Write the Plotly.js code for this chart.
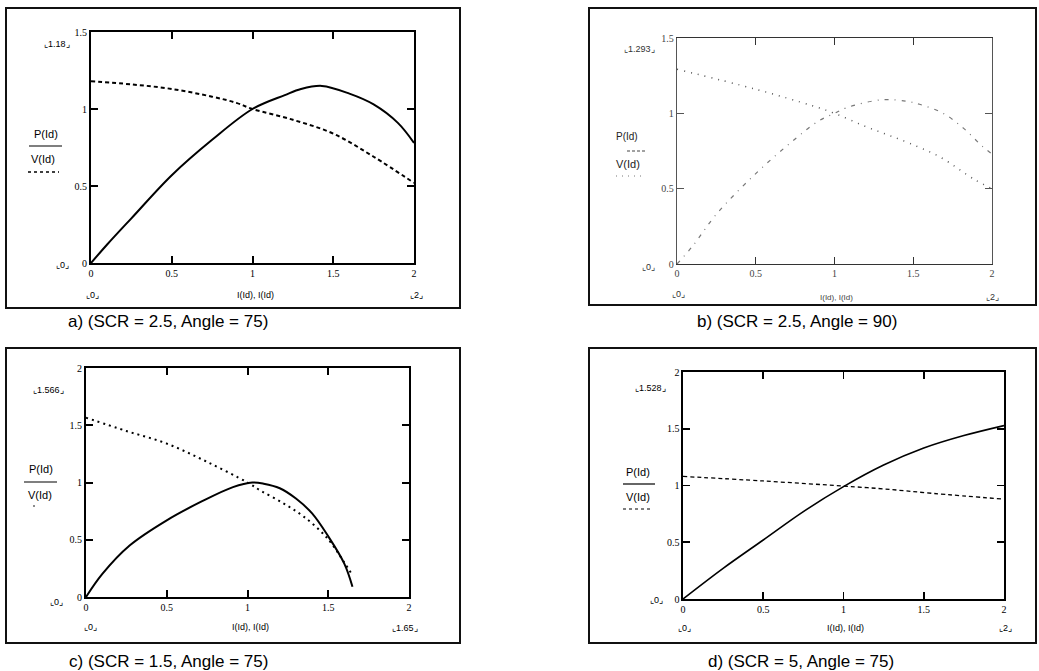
<!DOCTYPE html>
<html>
<head>
<meta charset="utf-8">
<script src="https://cdn.plot.ly/plotly-3.0.1.min.js"></script>
<style>html,body{margin:0;padding:0;background:#fff;}#chart{width:1039px;height:671px;}</style>
</head>
<body>
<div id="chart"></div>
<script>
// ---- data ----
var xTickVals = [0, 0.5, 1, 1.5, 2];
var xTickText = ["0", "0.5", "1", "1.5", "2"];
var yTickVals15 = [0, 0.5, 1, 1.5];
var yTickText15 = ["0", "0.5", "1", "1.5"];
var yTickVals2 = [0, 0.5, 1, 1.5, 2];
var yTickText2 = ["0", "0.5", "1", "1.5", "2"];

// a) SCR = 2.5, Angle = 75
var aPx = [0, 0.1, 0.25, 0.5, 0.75, 1.0, 1.2, 1.3, 1.43, 1.6, 1.75, 1.9, 2.0];
var aP  = [0, 0.12, 0.29, 0.57, 0.80, 1.0, 1.09, 1.13, 1.15, 1.10, 1.03, 0.91, 0.78];
var aVx = [0, 0.25, 0.5, 0.75, 0.9, 1.0, 1.25, 1.5, 1.75, 2.0];
var aV  = [1.18, 1.16, 1.13, 1.08, 1.04, 1.0, 0.93, 0.84, 0.69, 0.52];

// b) SCR = 2.5, Angle = 90
var bPx = [0, 0.1, 0.25, 0.5, 0.75, 0.9, 1.0, 1.07, 1.3, 1.46, 1.54, 1.69, 1.82, 1.94, 2.0];
var bP  = [0, 0.12, 0.33, 0.60, 0.83, 0.95, 1.0, 1.035, 1.09, 1.08, 1.06, 1.0, 0.90, 0.78, 0.73];
var bVx = [0, 0.5, 0.86, 1.0, 1.18, 1.33, 1.48, 1.67, 1.89, 2.0];
var bV  = [1.293, 1.16, 1.05, 1.0, 0.92, 0.86, 0.80, 0.71, 0.56, 0.50];

// c) SCR = 1.5, Angle = 75
var cPx = [0, 0.1, 0.27, 0.5, 0.71, 0.91, 1.03, 1.1, 1.2, 1.3, 1.4, 1.5, 1.6, 1.65];
var cP  = [0, 0.2, 0.45, 0.67, 0.83, 0.96, 1.0, 0.99, 0.95, 0.86, 0.73, 0.53, 0.29, 0.09];
var cVx = [0, 0.25, 0.5, 0.75, 1.0, 1.08, 1.22, 1.35, 1.49, 1.6, 1.65];
var cV  = [1.566, 1.45, 1.34, 1.18, 1.0, 0.93, 0.82, 0.70, 0.52, 0.30, 0.19];

// d) SCR = 5, Angle = 75
var dPx = [0, 0.25, 0.5, 0.75, 1.0, 1.25, 1.5, 1.75, 2.0];
var dP  = [0, 0.27, 0.52, 0.77, 0.99, 1.18, 1.33, 1.44, 1.528];
var dVx = [0, 0.5, 1.0, 1.25, 1.56, 2.0];
var dV  = [1.08, 1.04, 0.995, 0.97, 0.93, 0.88];

var captions = ["a) (SCR = 2.5, Angle = 75)", "b) (SCR = 2.5, Angle = 90)",
                "c) (SCR = 1.5, Angle = 75)", "d) (SCR = 5, Angle = 75)"];
var limitLabels = ["⌞1.18⌟", "⌞1.293⌟", "⌞1.566⌟", "⌞1.528⌟"];
var xEndLabels = ["⌞2⌟", "⌞2⌟", "⌞1.65⌟", "⌞2⌟"];
var zeroLabel = "⌞0⌟";
var xAxisLabel = "I(Id), I(Id)";
var legP = "P(Id)", legV = "V(Id)";

// ---- layout helpers ----
var W = 1039, H = 671;
function px(x) { return x / W; }
function py(y) { return 1 - y / H; }

var tickFont = {family: "Liberation Serif, serif", size: 10, color: "#000"};
var tickFontGray = {family: "Liberation Serif, serif", size: 10, color: "#444"};

function axis(d0, d1, range, anchor, mirror, vals, text, color, lw, font) {
  return {
    domain: [d0, d1], range: range, anchor: anchor,
    showline: true, linecolor: color, linewidth: lw, mirror: mirror,
    ticks: "inside", ticklen: 7, tickwidth: lw, tickcolor: color,
    tickmode: "array", tickvals: vals, ticktext: text,
    showgrid: false, zeroline: false, tickfont: font, fixedrange: true
  };
}

var traces = [
  {x: aPx, y: aP, xaxis: "x", yaxis: "y", mode: "lines", line: {color: "#000", width: 2, shape: "spline"}},
  {x: aVx, y: aV, xaxis: "x", yaxis: "y", mode: "lines", line: {color: "#000", width: 2, dash: "4px,3px", shape: "spline"}},
  {x: bPx, y: bP, xaxis: "x2", yaxis: "y2", mode: "lines", line: {color: "#777", width: 1.2, dash: "4px,6px,1px,6px", shape: "spline"}},
  {x: bVx, y: bV, xaxis: "x2", yaxis: "y2", mode: "lines", line: {color: "#555", width: 1.5, dash: "1px,6px", shape: "spline"}},
  {x: cPx, y: cP, xaxis: "x3", yaxis: "y3", mode: "lines", line: {color: "#000", width: 2, shape: "spline"}},
  {x: cVx, y: cV, xaxis: "x3", yaxis: "y3", mode: "lines", line: {color: "#000", width: 2, dash: "2px,4px", shape: "spline"}},
  {x: dPx, y: dP, xaxis: "x4", yaxis: "y4", mode: "lines", line: {color: "#000", width: 1.6, shape: "spline"}},
  {x: dVx, y: dV, xaxis: "x4", yaxis: "y4", mode: "lines", line: {color: "#000", width: 1.3, dash: "4px,3px", shape: "spline"}}
];

// plot area pixel boxes [left, right, top, bottom]
var boxes = [[91, 414, 32, 263], [677, 992, 38, 264], [86, 409, 368, 597], [683, 1004, 372, 599]];

var layout = {
  width: W, height: H, margin: {l: 0, r: 0, t: 0, b: 0},
  paper_bgcolor: "#fff", plot_bgcolor: "rgba(0,0,0,0)", showlegend: false,
  xaxis:  axis(px(boxes[0][0]), px(boxes[0][1]), [0, 2], "y", "allticks", xTickVals, xTickText, "#000", 2, tickFont),
  yaxis:  axis(py(boxes[0][3]), py(boxes[0][2]), [0, 1.5], "x", "allticks", yTickVals15, yTickText15, "#000", 2, tickFont),
  xaxis2: axis(px(boxes[1][0]), px(boxes[1][1]), [0, 2], "y2", "ticks", xTickVals, xTickText, "#333", 1.3, tickFontGray),
  yaxis2: axis(py(boxes[1][3]), py(boxes[1][2]), [0, 1.5], "x2", "allticks", yTickVals15, yTickText15, "#555", 1.2, tickFontGray),
  xaxis3: axis(px(boxes[2][0]), px(boxes[2][1]), [0, 2], "y3", "allticks", xTickVals, xTickText, "#000", 2, tickFont),
  yaxis3: axis(py(boxes[2][3]), py(boxes[2][2]), [0, 2], "x3", "ticks", yTickVals2, yTickText2, "#000", 2, tickFont),
  xaxis4: axis(px(boxes[3][0]), px(boxes[3][1]), [0, 2], "y4", "allticks", xTickVals, xTickText, "#000", 1.6, tickFont),
  yaxis4: axis(py(boxes[3][3]), py(boxes[3][2]), [0, 2], "x4", "allticks", yTickVals2, yTickText2, "#000", 1.6, tickFont),
  shapes: [], annotations: []
};

function ann(text, x, y, size, family, color, anchor) {
  layout.annotations.push({xref: "paper", yref: "paper", x: px(x), y: py(y), text: text,
    showarrow: false, xanchor: anchor || "center", yanchor: "middle",
    font: {size: size, family: family, color: color || "#000"}});
}
function hline(x0, x1, y, color, width, dash) {
  layout.shapes.push({type: "line", xref: "paper", yref: "paper", x0: px(x0), x1: px(x1), y0: py(y), y1: py(y),
    line: {color: color, width: width, dash: dash || "solid"}});
}
function rect(x0, x1, y0, y1) {
  layout.shapes.push({type: "rect", xref: "paper", yref: "paper", x0: px(x0), x1: px(x1), y0: py(y0), y1: py(y1),
    line: {color: "#111", width: 2}});
}

// outer frames
rect(6, 460, 8, 308);
rect(589, 1036, 8, 305);
rect(6, 460, 348, 643);
rect(589, 1036, 348, 643);

var sans = "Liberation Sans, Arial, sans-serif";
var small = 9;

// panel a
ann(limitLabels[0], 57, 44, small, sans);
ann(zeroLabel, 62, 265, small, sans);
ann(zeroLabel, 92, 295, small, sans);
ann(xAxisLabel, 255, 295, small, sans);
ann(xEndLabels[0], 416, 295, small, sans);
ann(legP, 46, 134, 11, sans);
hline(29, 62, 146, "#000", 1.2);
ann(legV, 43, 159, 11, sans);
hline(28, 59, 172, "#000", 1.5, "3px,3px");

// panel b
ann(limitLabels[1], 639, 49, small, sans, "#333");
ann(zeroLabel, 648, 267, small, sans, "#333");
ann(zeroLabel, 678, 294, small, sans, "#333");
ann(xAxisLabel, 836, 297, 8, sans, "#444");
ann(xEndLabels[1], 992, 297, small, sans, "#333");
ann(legP, 627, 137, 10, sans, "#222");
hline(627, 647, 151, "#444", 1, "3px,2px");
ann(legV, 628, 164, 11, sans, "#222");
hline(616, 643, 176, "#777", 1, "1px,5px");

// panel c
ann(limitLabels[2], 48, 390, small, sans);
ann(zeroLabel, 56, 602, small, sans);
ann(zeroLabel, 90, 627, small, sans);
ann(xAxisLabel, 250, 627, small, sans);
ann(xEndLabels[2], 405, 628, small, sans);
ann(legP, 41, 469, 11, sans);
hline(24, 57, 482, "#000", 1.2);
ann(legV, 40, 495, 11, sans);
hline(33, 35, 506, "#666", 1.5);

// panel d
ann(limitLabels[3], 650, 388, small, sans);
ann(zeroLabel, 656, 600, small, sans);
ann(zeroLabel, 684, 628, small, sans);
ann(xAxisLabel, 845, 628, small, sans);
ann(xEndLabels[3], 1005, 628, small, sans);
ann(legP, 638, 472, 11, sans);
hline(623, 655, 484, "#000", 1.2);
ann(legV, 638, 497, 11, sans);
hline(623, 652, 509, "#000", 1.2, "3px,3px");

// captions
ann(captions[0], 168, 321, 17, sans);
ann(captions[1], 797, 321, 17, sans);
ann(captions[2], 168, 661, 17, sans);
ann(captions[3], 801, 661, 17, sans);

Plotly.newPlot("chart", traces, layout, {displayModeBar: false, staticPlot: true});
</script>
</body>
</html>
